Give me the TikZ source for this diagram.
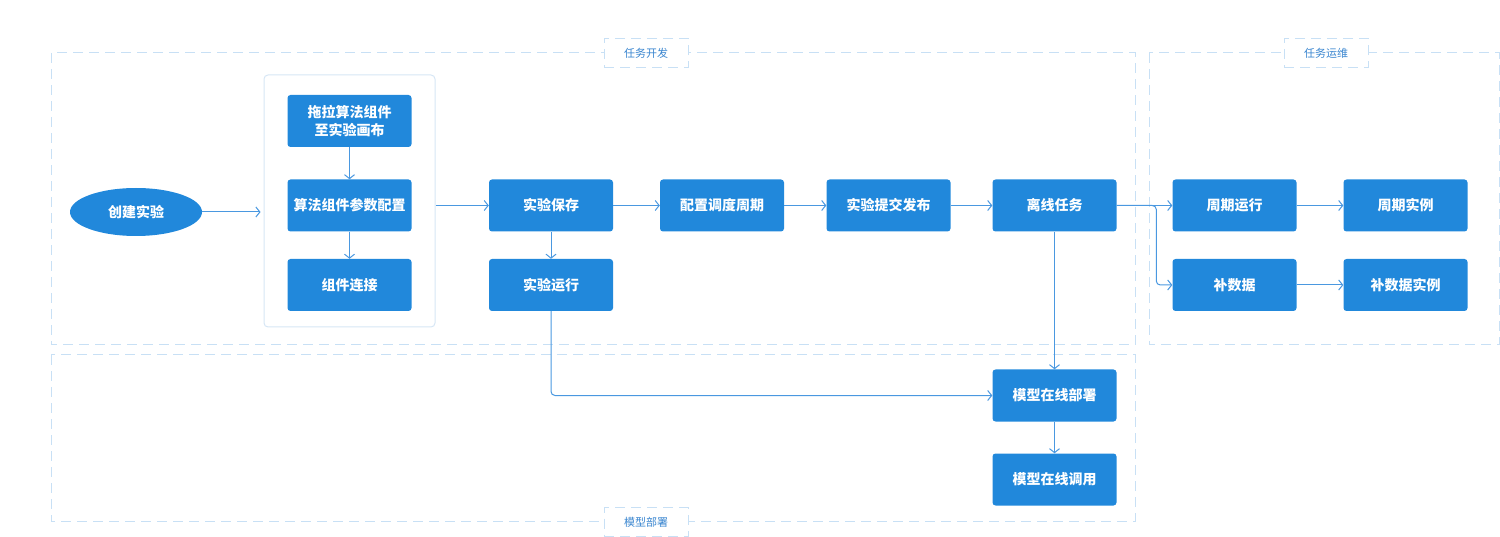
\documentclass[tikz,border=0pt]{standalone}
\usepackage{fontspec}
\setmainfont{Noto Sans CJK SC}
\usetikzlibrary{arrows.meta,shapes.geometric}
\definecolor{boxblue}{HTML}{2188DB}
\definecolor{linkblue}{HTML}{4A98E0}
\definecolor{dashblue}{HTML}{C8E0F5}
\definecolor{labelblue}{HTML}{3A86D0}
\definecolor{innerborder}{HTML}{D6E6F5}
\begin{document}
\begin{tikzpicture}[x=1pt,y=-1pt,
 stepbox/.style={rectangle, rounded corners=3pt, fill=boxblue, text=white, minimum width=124pt, minimum height=52pt, font=\fontsize{14}{18}\selectfont\bfseries, align=center, inner sep=0pt},
 link/.style={draw=linkblue, line width=1pt, -{Straight Barb[length=4pt,width=10pt]}},
 region/.style={draw=dashblue, line width=1pt, dash pattern=on 10pt off 6pt},
 tag/.style={draw=dashblue, fill=white, line width=1pt, dash pattern=on 10pt off 6pt, minimum width=84pt, minimum height=29pt, text=labelblue, font=\fontsize{11}{13}\selectfont, inner sep=0pt}]
\useasboundingbox (0,0) rectangle (1500,537);
% regions
\draw[region] (51,53) rectangle (1135,345);
\draw[region] (51,355) rectangle (1135,521);
\draw[region] (1149,53) rectangle (1499,345);
\node[tag] (tdev) at (646,53) {任务开发};
\node[tag] (tops) at (1326,53) {任务运维};
\node[tag] (tdep) at (646,522) {模型部署};
% inner group
\node[draw=innerborder, line width=1pt, rounded corners=4pt, minimum width=171pt, minimum height=252pt, inner sep=0pt] (group) at (349.5,201) {};
% nodes
\node[ellipse, fill=boxblue, text=white, minimum width=132pt, minimum height=48pt, inner sep=0pt, font=\fontsize{14}{18}\selectfont\bfseries] (create) at (136,212) {创建实验};
\node[stepbox] (drag) at (349.5,121) {拖拉算法组件\\至实验画布};
\node[stepbox] (param) at (349.5,205.5) {算法组件参数配置};
\node[stepbox] (conn) at (349.5,285) {组件连接};
\node[stepbox] (save) at (551,205.5) {实验保存};
\node[stepbox] (run) at (551,285) {实验运行};
\node[stepbox] (sched) at (722,205.5) {配置调度周期};
\node[stepbox] (submit) at (888.5,205.5) {实验提交发布};
\node[stepbox] (offline) at (1054.5,205.5) {离线任务};
\node[stepbox] (cycle) at (1234.5,205.5) {周期运行};
\node[stepbox] (cyclei) at (1405.5,205.5) {周期实例};
\node[stepbox] (back) at (1234.5,285) {补数据};
\node[stepbox] (backi) at (1405.5,285) {补数据实例};
\node[stepbox] (deploy) at (1054.5,395.5) {模型在线部署};
\node[stepbox] (call) at (1054.5,479.5) {模型在线调用};
% links
\draw[link] (create.east) -- ([xshift=-3pt]create.east -| group.west);
\draw[link] (drag) -- (param);
\draw[link] (param) -- (conn);
\draw[link] (group.east |- save.west) -- (save.west);
\draw[link] (save) -- (sched);
\draw[link] (sched) -- (submit);
\draw[link] (submit) -- (offline);
\draw[link] (offline) -- (cycle);
\draw[link, rounded corners=4pt] (offline.east) -- ([xshift=-16pt]cycle.west) |- (back.west);
\draw[link] (cycle) -- (cyclei);
\draw[link] (back) -- (backi);
\draw[link] (save) -- (run);
\draw[link, rounded corners=4pt] (run.south) |- (deploy.west);
\draw[link] (offline) -- (deploy);
\draw[link] (deploy) -- (call);
\end{tikzpicture}
\end{document}
